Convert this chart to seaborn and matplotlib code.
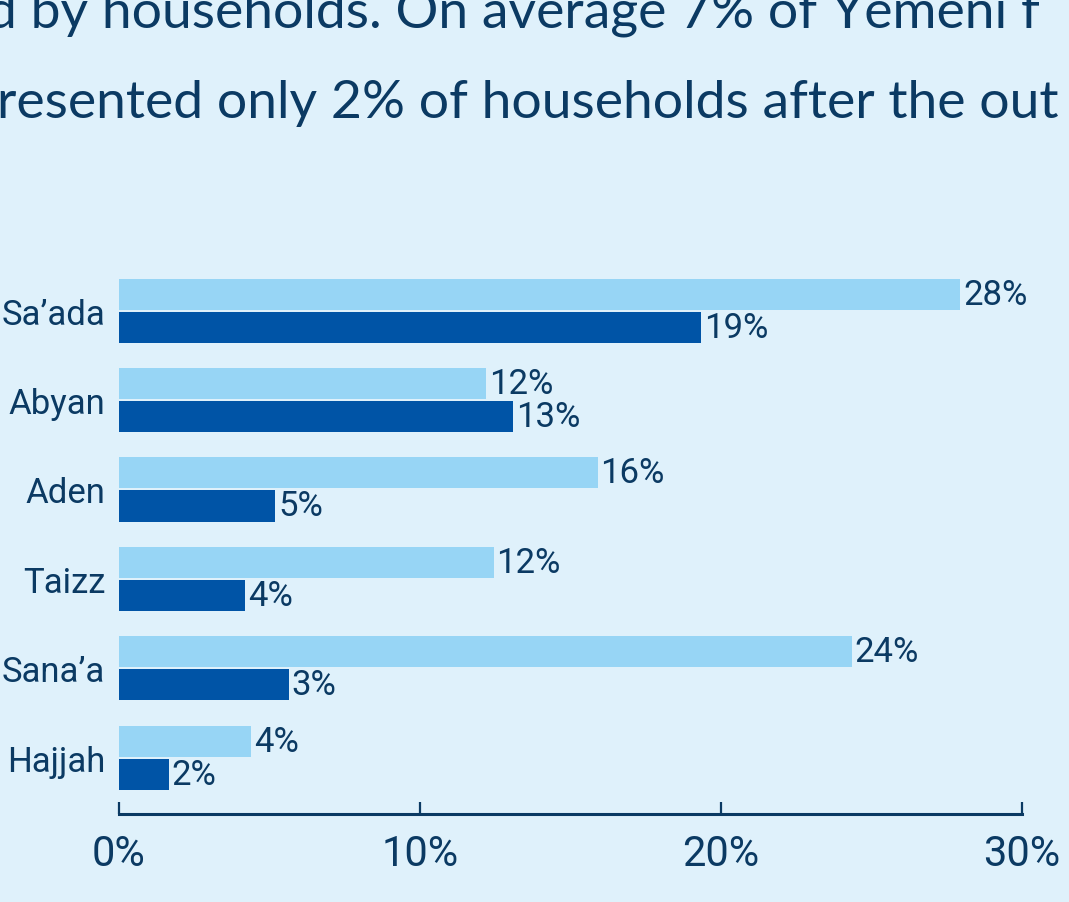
import pandas as pd
import matplotlib.pyplot as plt
import seaborn as sns

regions = ["Sa\u2019ada", "Abyan", "Aden", "Taizz", "Sana\u2019a", "Hajjah"]
before_vals = [27.95, 12.2, 15.9, 12.45, 24.35, 4.4]            # light bars
after_vals = [19.35, 13.1, 5.2, 4.2, 5.65, 1.65]                # dark bars
before_labels = ["28%", "12%", "16%", "12%", "24%", "4%"]
after_labels = ["19%", "13%", "5%", "4%", "3%", "2%"]
x_ticks = [0, 10, 20, 30]
x_ticklabels = ["0%", "10%", "20%", "30%"]

bg = "#dff1fb"
navy = "#0b3a63"
light_blue = "#97d5f5"
dark_blue = "#0054a6"

df = pd.DataFrame({
    "region": regions * 2,
    "series": ["Before"] * len(regions) + ["After"] * len(regions),
    "value": before_vals + after_vals,
})

sns.set_style("white")
plt.rcParams["font.family"] = ["Roboto", "DejaVu Sans"]

fig = plt.figure(figsize=(10.69, 9.03), dpi=100, facecolor=bg)
ax = fig.add_axes([0.1113, 0.0975, 0.8447, 0.6257], facecolor=bg)

sns.barplot(data=df, y="region", x="value", hue="series", orient="h",
            palette=[light_blue, dark_blue], width=0.74, gap=0.06,
            legend=False, ax=ax, saturation=1, linewidth=0)

for cont, labs in zip(ax.containers, [before_labels, after_labels]):
    ax.bar_label(cont, labels=labs, padding=2, fontsize=25, color=navy)

ax.set_xlim(0, 30)
ax.set_ylim(5.63, -0.69)
ax.set_xticks(x_ticks)
ax.set_xticklabels(x_ticklabels)
ax.set_xlabel("")
ax.set_ylabel("")

for s in ["top", "right", "left"]:
    ax.spines[s].set_visible(False)
ax.spines["bottom"].set_color(navy)
ax.spines["bottom"].set_linewidth(2.2)
ax.tick_params(axis="x", direction="in", length=9, width=1.6, color=navy,
               labelsize=30, labelcolor=navy, pad=14, bottom=True)
ax.tick_params(axis="y", length=0, labelsize=25, labelcolor=navy, pad=10)

# body text above the chart, cut off at the edges like the reference
fig.text(-0.012, 0.969, "d by households. On average 7% of Yemeni f", fontsize=38.5,
         color=navy, family=["Lato", "DejaVu Sans"], va="baseline")
fig.text(-0.003, 0.869, "resented only 2% of households after the out", fontsize=38.5,
         color=navy, family=["Lato", "DejaVu Sans"], va="baseline")

fig.savefig("out.png", dpi=100, facecolor=bg)
